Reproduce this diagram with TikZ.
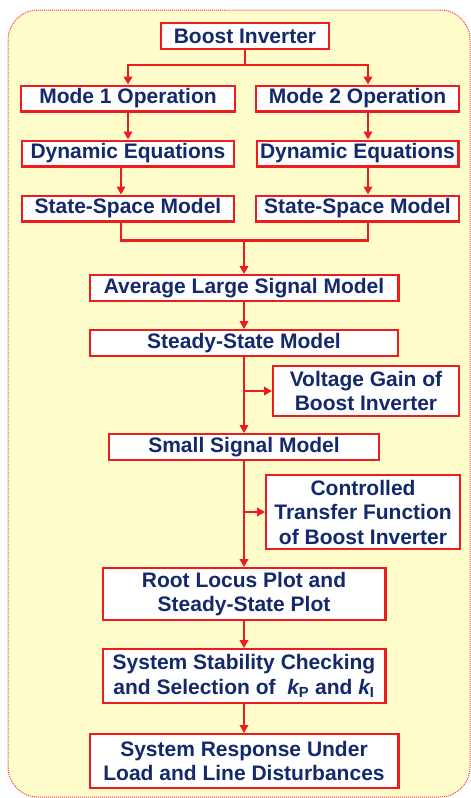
\documentclass[tikz,border=0pt]{standalone}
\usepackage{fontspec}
\setmainfont{Liberation Sans}
\usepackage{xcolor}
\usetikzlibrary{arrows.meta,positioning,calc}
\definecolor{FlowRed}{HTML}{EE1C1C}
\definecolor{FlowNavy}{HTML}{13296B}
\definecolor{FlowPaper}{HTML}{FFFDCC}

\begin{document}
\begin{tikzpicture}[
  x=1pt, y=1pt,
  node distance=27pt,
  box/.style={draw=FlowRed, fill=white, line width=2.4pt, minimum height=25.6pt, inner xsep=2pt, inner ysep=1pt, align=center, text=FlowNavy, font=\fontsize{21}{24.5}\selectfont\bfseries},
  arrow/.style={-{Triangle[length=8pt,width=8.5pt]}, line width=2.4pt, color=FlowRed},
  link/.style={line width=2.4pt, color=FlowRed}
]
\useasboundingbox (0,0) rectangle (471,-798);
\draw[FlowRed!85, densely dotted, line width=1pt, fill=FlowPaper, rounded corners=30pt] (8,-10) rectangle (470,-797);

\coordinate (lcol) at (121,0);
\coordinate (rcol) at (368,0);

\node[box, minimum width=167.6pt] (boost) at (245,-36) {Boost Inverter};
\node[box, minimum width=213.6pt] (mode1) at (128,-98.5) {Mode 1 Operation};
\node[box, minimum width=202.6pt] (mode2) at (357.5,-98.5) {Mode 2 Operation};
\node[box, minimum width=211.6pt, below=of mode1] (dyn1) {Dynamic Equations};
\node[box, minimum width=201.6pt, below=of mode2] (dyn2) {Dynamic Equations};
\node[box, minimum width=211.6pt, below=of dyn1] (ss1) {State-Space Model};
\node[box, minimum width=202.6pt, below=of dyn2] (ss2) {State-Space Model};

\node[box, minimum width=308.6pt] (avg) at (244,-288) {Average Large Signal Model};
\node[box, minimum width=307.6pt, below=of avg] (steady) {Steady-State Model};
\node[box, minimum width=185.6pt, minimum height=49.6pt] (vgain) at (366,-391) {Voltage Gain of\\Boost Inverter};
\node[box, minimum width=269.6pt, below=76pt of steady] (small) {Small Signal Model};
\node[box, minimum width=193.6pt, minimum height=73.6pt] (ctf) at (363,-512) {Controlled\\Transfer Function\\of Boost Inverter};
\node[box, minimum width=282.6pt, minimum height=51.6pt, below=106pt of small] (root) {Root Locus Plot and\\Steady-State Plot};
\node[box, minimum width=282.6pt, minimum height=53.6pt, below=of root] (stab) {System Stability Checking\\and Selection of~~{\itshape k}\textsubscript{P} and {\itshape k}\textsubscript{I}};
\node[box, minimum width=308.6pt, minimum height=53.6pt, below=29pt of stab] (resp) {System Response Under\\Load and Line Disturbances};

\draw[arrow] (boost.south) -- ++(0,-15) -| (mode1.north);
\draw[arrow] (boost.south) -- ++(0,-15) -| (mode2.north -| rcol);
\draw[arrow] (mode1) -- (dyn1);
\draw[arrow] (mode2.south -| rcol) -- (dyn2.north -| rcol);
\draw[arrow] (dyn1.south -| lcol) -- (ss1.north -| lcol);
\draw[arrow] (dyn2.south -| rcol) -- (ss2.north -| rcol);
\draw[link] (ss1.south -| lcol) -- ++(0,-18) coordinate (merge) -| (ss2.south -| rcol);
\draw[arrow] (merge -| avg.north) -- (avg.north);
\draw[arrow] (avg) -- (steady);
\draw[arrow] (steady) -- (small);
\draw[arrow] (steady.south |- vgain.west) -- (vgain.west);
\draw[arrow] (small) -- (root);
\draw[arrow] (small.south |- ctf.west) -- (ctf.west);
\draw[arrow] (root) -- (stab);
\draw[arrow] (stab) -- (resp);
\end{tikzpicture}
\end{document}
